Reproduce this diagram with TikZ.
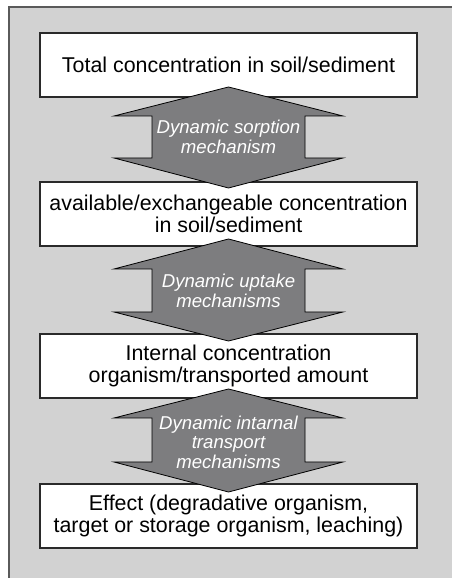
\documentclass[tikz,border=0pt]{standalone}
\usepackage{fontspec}
\setmainfont{Liberation Sans}
\definecolor{panel}{HTML}{D2D2D2}
\definecolor{panelline}{HTML}{5A5A5A}
\definecolor{boxline}{HTML}{2A2A2A}
\definecolor{arrowfill}{HTML}{7D7D7F}
\newcommand{\mecharrow}[4]{%
  \draw[dbl] (228.5,#1) -- (114,#2) -- (152,#2) -- (152,#3) -- (114,#3) -- (228.5,#4)
    -- (343,#3) -- (305,#3) -- (305,#2) -- (343,#2) -- cycle;}
\begin{document}
\begin{tikzpicture}[x=1pt,y=1pt,
  box/.style={draw=boxline, line width=1.2pt, fill=white, minimum width=377pt,
    minimum height=64pt, align=center, inner sep=0pt,
    font=\fontsize{21.4}{22}\selectfont},
  mech/.style={text=white, align=center, inner sep=0pt,
    font=\fontsize{18.6}{19.5}\selectfont\itshape},
  dbl/.style={draw=black, line width=0.8pt, fill=arrowfill, line join=miter}]
\useasboundingbox (0,0) rectangle (451,578);
\fill[panel] (9,-10) rectangle (460,571);
\draw[panelline, line width=2pt] (9,-10) -- (9,571) -- (460,571);

\node[box] (b1) at (228.5,513) {Total concentration in soil/sediment};
\node[box] (b2) at (228.5,364) {available/exchangeable concentration\\in soil/sediment};
\node[box] (b3) at (228.5,212) {Internal concentration\\organism/transported amount};
\node[box] (b4) at (228.5,62) {Effect (degradative organism,\\target or storage organism, leaching)};

\mecharrow{491}{462}{420}{390}
\mecharrow{339}{309}{266}{237}
\mecharrow{189}{160}{116}{86}

\node[mech] (m1) at (228.5,441) {Dynamic sorption\\mechanism};
\node[mech] (m2) at (228.5,287) {Dynamic uptake\\mechanisms};
\node[mech] (m3) at (228.5,136) {Dynamic intarnal\\transport\\mechanisms};
\end{tikzpicture}
\end{document}
